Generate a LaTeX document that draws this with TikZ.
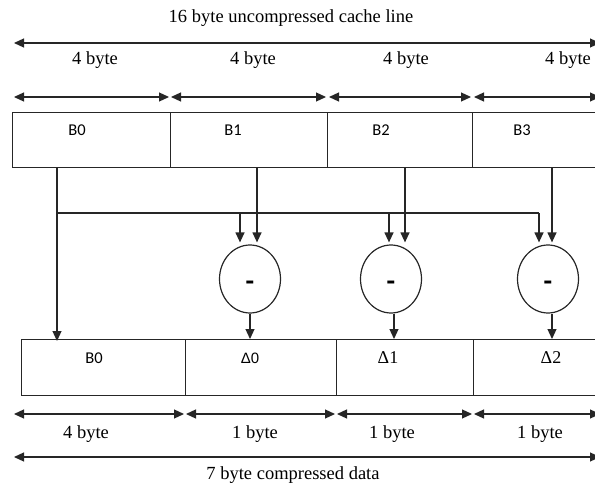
\documentclass[tikz,border=0pt]{standalone}
\usepackage{fontspec}
\setmainfont{Liberation Serif}
\newfontfamily\boxfont{Carlito}
\newfontfamily\arialfont{Liberation Sans}
\usetikzlibrary{arrows.meta,shapes.geometric}
\begin{document}
\begin{tikzpicture}[x=1pt,y=-1pt,
  line/.style={line width=1.2pt, draw=black!85},
  arr/.style={line, -{Triangle[length=10pt,width=9pt]}},
  dim/.style={line, {Triangle[length=10pt,width=9pt]}-{Triangle[length=10pt,width=9pt]}},
  cell/.style={draw=black!85, line width=1.2pt, rectangle, inner sep=0pt, anchor=north west},
  lbl/.style={font=\fontsize{18.5}{20}\selectfont, inner sep=0pt},
  blbl/.style={font=\boxfont\fontsize{16.5}{18}\selectfont, inner sep=0pt},
  sub/.style={draw=black!85, line width=1.2pt, ellipse, minimum width=61pt, minimum height=68pt, inner sep=0pt},
  minus/.style={font=\boxfont\bfseries\fontsize{28}{30}\selectfont, inner sep=0pt}]
\useasboundingbox (0,0) rectangle (595,487);

% titles and dimension labels
\node[lbl] (title) at (291,18) {16 byte uncompressed cache line};
\node[lbl] (ta) at (95,60) {4 byte};
\node[lbl] (tb) at (253,60) {4 byte};
\node[lbl] (tc) at (406,60) {4 byte};
\node[lbl] (td) at (568,60) {4 byte};
\node[lbl] (ba) at (86,434) {4 byte};
\node[lbl] (bb) at (255,434) {1 byte};
\node[lbl] (bc) at (392,434) {1 byte};
\node[lbl] (bd) at (540,434) {1 byte};
\node[lbl] (btitle) at (293,475) {7 byte compressed data};

% dimension lines
\draw[dim] (14,43) -- (600,43);
\draw[dim] (14,97) -- (169,97);
\draw[dim] (171,97) -- (326,97);
\draw[dim] (329,97) -- (471,97);
\draw[dim] (474,97) -- (600,97);
\draw[dim] (14,414) -- (184,414);
\draw[dim] (186,414) -- (335,414);
\draw[dim] (337,414) -- (472,414);
\draw[dim] (474,414) -- (600,414);
\draw[dim] (14,457) -- (600,457);

% top cache line
\node[cell, minimum width=158pt, minimum height=55pt] (tB0) at (12,112) {};
\node[cell, minimum width=157pt, minimum height=55pt] (tB1) at (170,112) {};
\node[cell, minimum width=145pt, minimum height=55pt] (tB2) at (327,112) {};
\node[cell, minimum width=135pt, minimum height=55pt] (tB3) at (472,112) {};
\node[blbl] (lB0) at (77,130) {B0};
\node[blbl] (lB1) at (233,130) {B1};
\node[blbl] (lB2) at (381,130) {B2};
\node[blbl] (lB3) at (522,130) {B3};

% bottom compressed data
\node[cell, minimum width=164pt, minimum height=56pt] (bB0) at (21,339) {};
\node[cell, minimum width=151pt, minimum height=56pt] (bD0) at (185,339) {};
\node[cell, minimum width=137pt, minimum height=56pt] (bD1) at (336,339) {};
\node[cell, minimum width=135pt, minimum height=56pt] (bD2) at (473,339) {};
\node[blbl] (lbB0) at (94,358) {B0};
\node[inner sep=0pt, font=\arialfont\fontsize{15}{17}\selectfont] (lD0) at (250,358) {Δ0};
\node[lbl, font=\fontsize{18}{20}\selectfont] (lD1) at (388,358) {Δ1};
\node[lbl, font=\fontsize{18}{20}\selectfont] (lD2) at (551,358) {Δ2};

% subtractors
\node[sub] (s0) at (250,279) {};
\node[sub] (s1) at (391,279) {};
\node[sub] (s2) at (548,279) {};
\node[minus] (m0) at (250,286) {-};
\node[minus] (m1) at (391,286) {-};
\node[minus] (m2) at (548,286) {-};

% base distribution
\coordinate (j0) at (57,213);
\coordinate (j1) at (240,213);
\coordinate (j2) at (389,213);
\coordinate (j3) at (539,213);
\draw[arr] ([xshift=45pt]tB0.south west) -- ([xshift=36pt,yshift=-2pt]bB0.north west);
\draw[line] (j0) -- (j3);
\draw[arr] (j1) -- ([yshift=2pt]j1 |- s0.north);
\draw[arr] (j2) -- ([yshift=2pt]j2 |- s1.north);
\draw[arr] (j3) -- ([yshift=2pt]j3 |- s2.north);

% values into subtractors
\draw[arr] ([xshift=87pt]tB1.south west) coordinate (d1) -- ([yshift=2pt]d1 |- s0.north);
\draw[arr] ([xshift=78pt]tB2.south west) coordinate (d2) -- ([yshift=2pt]d2 |- s1.north);
\draw[arr] ([xshift=80pt]tB3.south west) coordinate (d3) -- ([yshift=2pt]d3 |- s2.north);

% deltas out
\draw[arr] (s0.south) -- (s0.south |- bD0.north);
\draw[arr] ([xshift=3pt]s1.south) coordinate (e1) -- (e1 |- bD1.north);
\draw[arr] ([xshift=4pt]s2.south) coordinate (e2) -- (e2 |- bD2.north);
\end{tikzpicture}
\end{document}
